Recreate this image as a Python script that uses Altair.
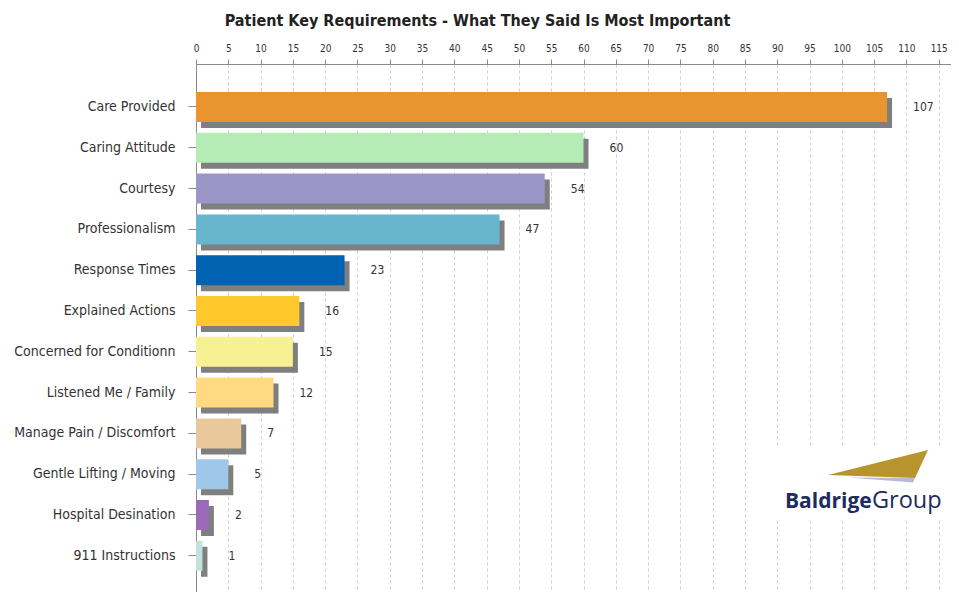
import altair as alt
import pandas as pd

categories = ["Care Provided", "Caring Attitude", "Courtesy", "Professionalism",
              "Response Times", "Explained Actions", "Concerned for Conditionn",
              "Listened Me / Family", "Manage Pain / Discomfort",
              "Gentle Lifting / Moving", "Hospital Desination", "911 Instructions"]
values = [107, 60, 54, 47, 23, 16, 15, 12, 7, 5, 2, 1]
colors = ["#E8952F", "#B5EBB5", "#9C95C8", "#68B6CE", "#0062B0", "#FFC82C",
          "#F7F193", "#FFDA80", "#E9C99C", "#9EC7E9", "#9A6BB8", "#BDE3DA"]
tick_values = list(range(0, 120, 5))

df = pd.DataFrame({"cat": categories, "val": values})

FONT = "DejaVu Sans Condensed, Liberation Sans, Arial"

x_enc = alt.X("val:Q", scale=alt.Scale(domain=[0, 116.9], nice=False, zero=True),
              axis=alt.Axis(orient="top", values=tick_values, title=None,
                            grid=True, gridDash=[3, 3], gridColor="#cfcfcf",
                            domainColor="#8a8a8a", tickColor="#8a8a8a", tickSize=5,
                            labelFont=FONT, labelFontSize=10, labelColor="#333333",
                            labelPadding=6, labelFlush=False, labelOverlap=False))
y_enc = alt.Y("cat:N", sort=categories,
              scale=alt.Scale(paddingInner=0.265, paddingOuter=0.603, align=0.569),
              axis=alt.Axis(title=None, domainColor="#8a8a8a", tickColor="#8a8a8a",
                            tickSize=8, labelPadding=13, labelFont=FONT,
                            labelFontSize=14, labelColor="#333333", labelLimit=250))

base = alt.Chart(df)

shadow = base.mark_bar(color="#7f7f7f", xOffset=5, yOffset=6).encode(
    x=x_enc, y=y_enc)

bars = base.mark_bar().encode(
    x=x_enc, y=y_enc,
    color=alt.Color("cat:N", scale=alt.Scale(domain=categories, range=colors), legend=None))

labels = base.mark_text(align="left", baseline="middle", dx=26, font=FONT,
                        fontSize=12, color="#333333").encode(
    x=x_enc, y=y_enc, text="val:Q")

# logo decoration
one = pd.DataFrame({"a": [0]})
logo_bg = alt.Chart(one).mark_rect(color="white").encode(
    x=alt.value(578), x2=alt.value(755), y=alt.value(384), y2=alt.value(454))
logo_tri = alt.Chart(one).mark_point(
    shape="M -1 0.22 L 1 -0.28 L 0.74 0.28 Z", filled=True, color="#B8952C",
    opacity=1, size=10000).encode(x=alt.value(682), y=alt.value(400))
logo_sliver = alt.Chart(one).mark_point(
    shape="M -0.6 0.27 L 0.74 0.28 L 0.7 0.37 Z", filled=True, color="#B9BBD6",
    opacity=1, size=10000).encode(x=alt.value(682), y=alt.value(400))
logo_t1 = alt.Chart(one).mark_text(
    text="Baldrige", font="Open Sans", fontWeight="bold", fontSize=21,
    color="#1E2B5E", align="left", baseline="alphabetic").encode(
    x=alt.value(589), y=alt.value(444))
logo_t2 = alt.Chart(one).mark_text(
    text="Group", font="Open Sans", fontSize=23.5,
    color="#1E2B5E", align="left", baseline="alphabetic").encode(
    x=alt.value(676), y=alt.value(444))

chart = alt.layer(shadow, bars, labels, logo_bg, logo_tri, logo_sliver, logo_t1, logo_t2).properties(
    width=755, height=528,
    autosize=alt.AutoSizeParams(type="none"),
    padding={"left": 188, "top": 56, "right": 0, "bottom": 0},
    title=alt.TitleParams("Patient Key Requirements - What They Said Is Most Important",
                          font=FONT, fontSize=16, fontWeight="bold", color="#222222",
                          anchor="middle", dx=-96, offset=14),
).configure_view(stroke=None)

chart.save("out.html", embed_options={"renderer": "svg", "actions": False})
